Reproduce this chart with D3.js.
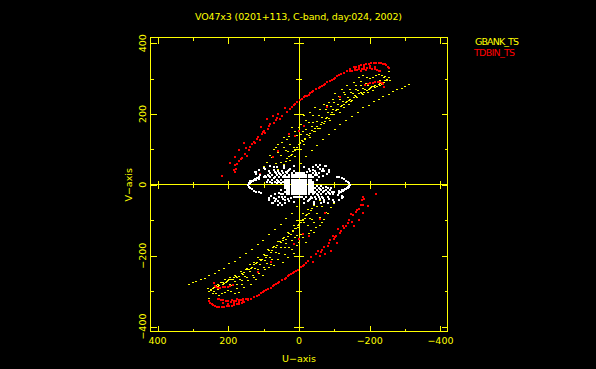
<!DOCTYPE html>
<html>
<head>
<meta charset="utf-8">
<style>
  html, body { margin: 0; background: #000; }
  svg { display: block; }
  text { font-family: "DejaVu Sans", sans-serif; font-size: 9.5px; fill: #ffff00; }
</style>
<script src="https://cdn.jsdelivr.net/npm/d3@7/dist/d3.min.js"></script>
</head>
<body>
<div id="chart"></div>
<script>
const width = 596;
const height = 369;

const titleText = 'VO47x3 (0201+113, C-band, day:024, 2002)';
const majorTicks = [400, 200, 0, -200, -400];
const minorTicks = [300, 100, -100, -300];
const legendNames = ['GBANK_TS', 'TDBIN_TS'];

const yellowPoints = [
  [-310,282],[-301,277],[-291,273],[-277,268],[-265,264],[-254,256],[-238,249],[-225,242],[-211,235],[-197,223],
  [-181,217],[-166,205],[-150,193],[-134,183],[-117,169],[-103,157],[-84,141],[-68,127],[-51,112],[-37,96],[-21,80],[-7,61],
  [-254,302],[-256,294],[-244,294],[-230,287],[-216,280],[-207,277],[-202,271],[-188,268],[-174,261],[-159,252],
  [-145,240],[-136,235],[-122,223],[-108,214],[-93,205],[-79,190],[-65,176],[-51,164],[-37,153],[-23,141],[-8,124],
  [1,113],[10,101],[20,87],[34,73],[43,58],[58,44],
  [-254,321],[-244,306],[-235,308],[-219,308],[-202,299],[-181,308],[-169,304],[-155,290],[-136,280],[-122,268],
  [-103,257],[-84,233],[-70,228],[-46,219],[-32,205],[-56,195],[-13,195],[-27,176],[-41,176],[1,162],[20,162],
  [43,134],[58,115],[72,99],[34,129],[6,139],[25,115],[43,106],[58,91],[76,77],[91,63],[43,54],
  [-235,283],[-222,277],[-210,266],[-195,262],[-180,255],[-165,246],[-150,238],[-140,226],[-128,218],[-115,205],
  [-100,198],[-88,182],[-74,178],[-60,160],[-45,152],[-30,135],[-16,128],[-190,285],[-175,280],[-160,270],[-148,262],
  [-130,255],[-115,240],[-100,232],[-90,222],[-75,212],[30,95],[15,105],[10,80],[25,70],[-5,100],[-15,115],[-10,150],
  [-250,298],[-240,290],[-226,284],[-212,278],[-204,274],[-192,266],[-184,262],[-170,258],[-155,248],[-142,238],[-132,232],
  [-118,220],[-104,210],[-96,200],[-84,186],[-70,174],[-55,160],[-42,150],[-28,138],[-12,122],[-3,116],[6,106],[16,94],[28,80],[38,66],
  [-248,296],[-228,281],[-214,276],[-198,268],[-178,258],[-162,250],[-146,236],[-126,226],[-110,212],[-90,200],[-76,186],[-62,170],
  [-46,158],[-32,146],[-18,132],[-2,120],[12,98],[24,84],[50,62],[68,38],[-240,302],[-228,296],[-210,288],[-196,280],[-182,272],
  [-168,266],[-152,258],[-138,246],[-124,236],[-110,226],[-95,214],[-82,204],[-66,190],[-50,178],[-36,166],[-20,156],[-6,142],
  [-226,312],[-210,304],[-192,302],[-175,292],[-160,280],[-145,270],[-128,262],[-112,250],[-96,240],[-78,225],[-60,212],[-40,196],
  [-20,182],[-6,170],[12,150],[28,136],[48,120],[64,105],[82,82],[100,52],[64,60],[50,82],[36,98]
];

const redPoints = [
  [218,25],[194,61],[182,35],[185,41],[178,44],[180,57],[174,58],[169,68],[169,99],[180,79],[161,77],[147,82],[155,117],
  [149,104],[138,107],[133,115],[124,117],[119,129],[111,126],[108,164],[105,143],[102,148],[95,145],[91,186],[89,157],
  [81,172],[74,195],[72,176],[62,189],[58,200],[48,195],[41,217],[34,205],[25,214],[15,226],[6,233],[-2,240],[-13,247],
  [-23,252],[-32,258],[-41,266],[-56,273],[-65,280],[-74,285],[-87,294],[-98,299],[-108,306],[-120,313],[-136,321],
  [-150,322],[-164,324],[-178,327],[-192,330],[-207,327],[-221,324],[-230,321],
  [-155,332],[-169,336],[-183,339],[-197,342],[-211,344],[-225,345],[-238,342],[-247,337],[-254,329],
  [-202,287],[-216,289],[-230,290],[-238,285],[-240,277],[-117,247],[-79,219],[-13,167],[1,153],[10,139],[29,143],[58,96],[74,79],[109,30],
  [20,220],[10,229],[-8,243],[-18,250],[-28,255],[-37,262],[-48,270],[-60,276],[-70,283],[-80,290],[-92,296],[-103,303],[-114,310],[-128,317],
  [-143,326],[-157,328],[-171,331],[-185,334],[-200,335],[-214,333],[55,186],[66,183],[85,165],[98,152],[115,135],[128,122],[142,98],[152,86],[165,72],
  [-162,334],[-176,337],[-190,341],[-204,343],[-218,345],[-232,344],[-243,340],[-251,333],[-209,288],[-223,290],[-235,288],[-195,285],[-188,282],
  [-143,322],[-157,323],[-171,326],[-185,328],[-200,329],[-214,326],[-226,322],[-175,322],[-190,325]
];

const whitePoints = [
  [145,0],[138,10],[128,14],[114,17],[-107,22],[-122,19],[-134,12],[-141,5],[-142,-2],[-136,-8],[-124,-16],[-112,-22],
  [142,5],[133,12],[121,15],[-114,21],[-128,16],[-138,8],[-139,-5],[-130,-12],[-118,-19],
  [121,36],[114,43],[100,48],[81,52],[62,50],[43,47],[25,45],[-60,57],[-73,52],[-84,42],[-79,31],[-68,25],[-56,22],
  [121,31],[109,28],[95,26],[-41,42],[-53,50],[-65,39],[124,35],[95,44],[72,49],[43,54],[15,52],[-13,49],[-32,40],[-46,40],[-75,52],[-84,36],
  [-39,3],[-33,3],[-27,3],[-21,3],[-15,3],[-9,3],[-3,3],[3,3],[9,3],[15,3],[21,3],[27,3],[33,3],[39,3],
  [-39,9],[-33,9],[-27,9],[-21,9],[-15,9],[-9,9],[-3,9],[3,9],[9,9],[15,9],[21,9],[27,9],[33,9],[39,9],[45,9],[57,9],[69,9],[81,9],
  [-33,15],[-27,15],[-21,15],[-15,15],[-9,15],[-3,15],[3,15],[9,15],[15,15],[21,15],[27,15],[33,15],[39,15],[51,15],[63,15],[75,15],[87,15],
  [-33,21],[-27,21],[-21,21],[-15,21],[-9,21],[-3,21],[3,21],[9,21],[15,21],[21,21],[27,21],[33,21],[39,21],[45,21],[57,21],[69,21],[81,21],[93,21],
  [-39,21],[-51,15],[-45,27],[-39,33],[-27,27],[-21,27],[-15,27],[-9,27],[-3,27],[3,27],[9,27],[15,27],[21,27],[27,27],[39,27],[51,27],[63,27],[75,27],[87,27],
  [-15,33],[-9,33],[-3,33],[3,33],[9,33],[21,33],[33,33],[45,33],[57,33],[69,36],[81,33],[15,39],[27,42],
  [-33,27],[-57,33],[-47,33],[-51,27],[30,39],[48,39],[60,39],[72,42],[84,39],[-24,36],[-27,45],[-39,50],[-67,46],
  [51,4],[63,4],[75,5],[90,9],[99,21],[54,30],[66,33],[42,24],[60,12],[72,18],[84,24],[36,36],[-60,45],[-72,38],[-48,56]
];

const x = d3.scaleLinear().domain([420, -420]).range([150.5, 447.5]);
const y = d3.scaleLinear().domain([416, -414]).range([37.5, 331.5]);

const svg = d3.select('#chart')
  .append('svg')
  .attr('width', width)
  .attr('height', height)
  .style('background', '#000');

function drawTicks(axis, transform, values, size) {
  svg.append('g')
    .attr('transform', transform)
    .call(axis.tickValues(values).tickSize(size).tickSizeOuter(0).tickFormat(''))
    .call(g => g.select('.domain').remove())
    .selectAll('line')
    .attr('stroke', '#ffff00')
    .attr('shape-rendering', 'crispEdges');
}

// frame
svg.append('rect')
  .attr('x', x(420))
  .attr('y', y(416))
  .attr('width', x(-420) - x(420))
  .attr('height', y(-414) - y(416))
  .attr('fill', 'none')
  .attr('stroke', '#ffff00')
  .attr('shape-rendering', 'crispEdges');

// zero lines
svg.append('line')
  .attr('x1', x(420)).attr('x2', x(-420)).attr('y1', y(0)).attr('y2', y(0))
  .attr('stroke', '#ffff00').attr('shape-rendering', 'crispEdges');
svg.append('line')
  .attr('y1', y(416)).attr('y2', y(-414)).attr('x1', x(0)).attr('x2', x(0))
  .attr('stroke', '#ffff00').attr('shape-rendering', 'crispEdges');

// ticks on the frame, pointing inwards
drawTicks(d3.axisBottom(x), `translate(0,${y(416)})`, majorTicks, 6);
drawTicks(d3.axisBottom(x), `translate(0,${y(416)})`, minorTicks, 3);
drawTicks(d3.axisTop(x), `translate(0,${y(-414)})`, majorTicks, 6);
drawTicks(d3.axisTop(x), `translate(0,${y(-414)})`, minorTicks, 3);
drawTicks(d3.axisRight(y), `translate(${x(420)},0)`, majorTicks, 6);
drawTicks(d3.axisRight(y), `translate(${x(420)},0)`, minorTicks, 3);
drawTicks(d3.axisLeft(y), `translate(${x(-420)},0)`, majorTicks, 6);
drawTicks(d3.axisLeft(y), `translate(${x(-420)},0)`, minorTicks, 3);

// ticks on the zero lines go both ways
[1, -1].forEach(side => {
  drawTicks(d3.axisBottom(x), `translate(0,${y(0)})`, majorTicks.filter(d => d), side * 4);
  drawTicks(d3.axisBottom(x), `translate(0,${y(0)})`, minorTicks, side * 3);
  drawTicks(d3.axisRight(y), `translate(${x(0)},0)`, majorTicks.filter(d => d), side * 5);
  drawTicks(d3.axisRight(y), `translate(${x(0)},0)`, minorTicks, side * 3);
});

// points, conjugates included
function drawPoints(points, color, w, h) {
  svg.append('g')
    .selectAll('rect')
    .data(points.flatMap(([u, v]) => [[u, v], [-u, -v]]))
    .join('rect')
    .attr('x', d => Math.round(x(d[0]) - w / 2))
    .attr('y', d => Math.round(y(d[1]) - h / 2))
    .attr('width', w)
    .attr('height', h)
    .attr('fill', color)
    .attr('shape-rendering', 'crispEdges');
}

drawPoints(yellowPoints, '#ffff00', 2, 1);
drawPoints(redPoints, '#ff0000', 2, 2);
drawPoints(whitePoints, '#ffffff', 2, 2);

// labels
svg.append('text')
  .attr('x', 195).attr('y', 20)
  .attr('textLength', 207)
  .attr('lengthAdjust', 'spacing')
  .text(titleText);

majorTicks.forEach(d => {
  svg.append('text')
    .attr('x', x(d)).attr('y', 344)
    .attr('text-anchor', 'middle')
    .text(String(d).replace('-', '\u2212'));
  svg.append('text')
    .attr('transform', `translate(146,${y(d)}) rotate(-90)`)
    .attr('text-anchor', 'middle')
    .text(String(d).replace('-', '\u2212'));
});

svg.append('text')
  .attr('x', x(0)).attr('y', 362)
  .attr('text-anchor', 'middle')
  .text('U\u2212axis');
svg.append('text')
  .attr('transform', `translate(132,${y(0)}) rotate(-90)`)
  .attr('text-anchor', 'middle')
  .text('V\u2212axis');

svg.append('text')
  .attr('x', 475).attr('y', 45)
  .attr('textLength', 44)
  .attr('lengthAdjust', 'spacing')
  .text(legendNames[0]);
svg.append('text')
  .attr('x', 474).attr('y', 56)
  .attr('textLength', 41)
  .attr('lengthAdjust', 'spacing')
  .style('fill', '#ff0000')
  .text(legendNames[1]);
</script>
</body>
</html>
